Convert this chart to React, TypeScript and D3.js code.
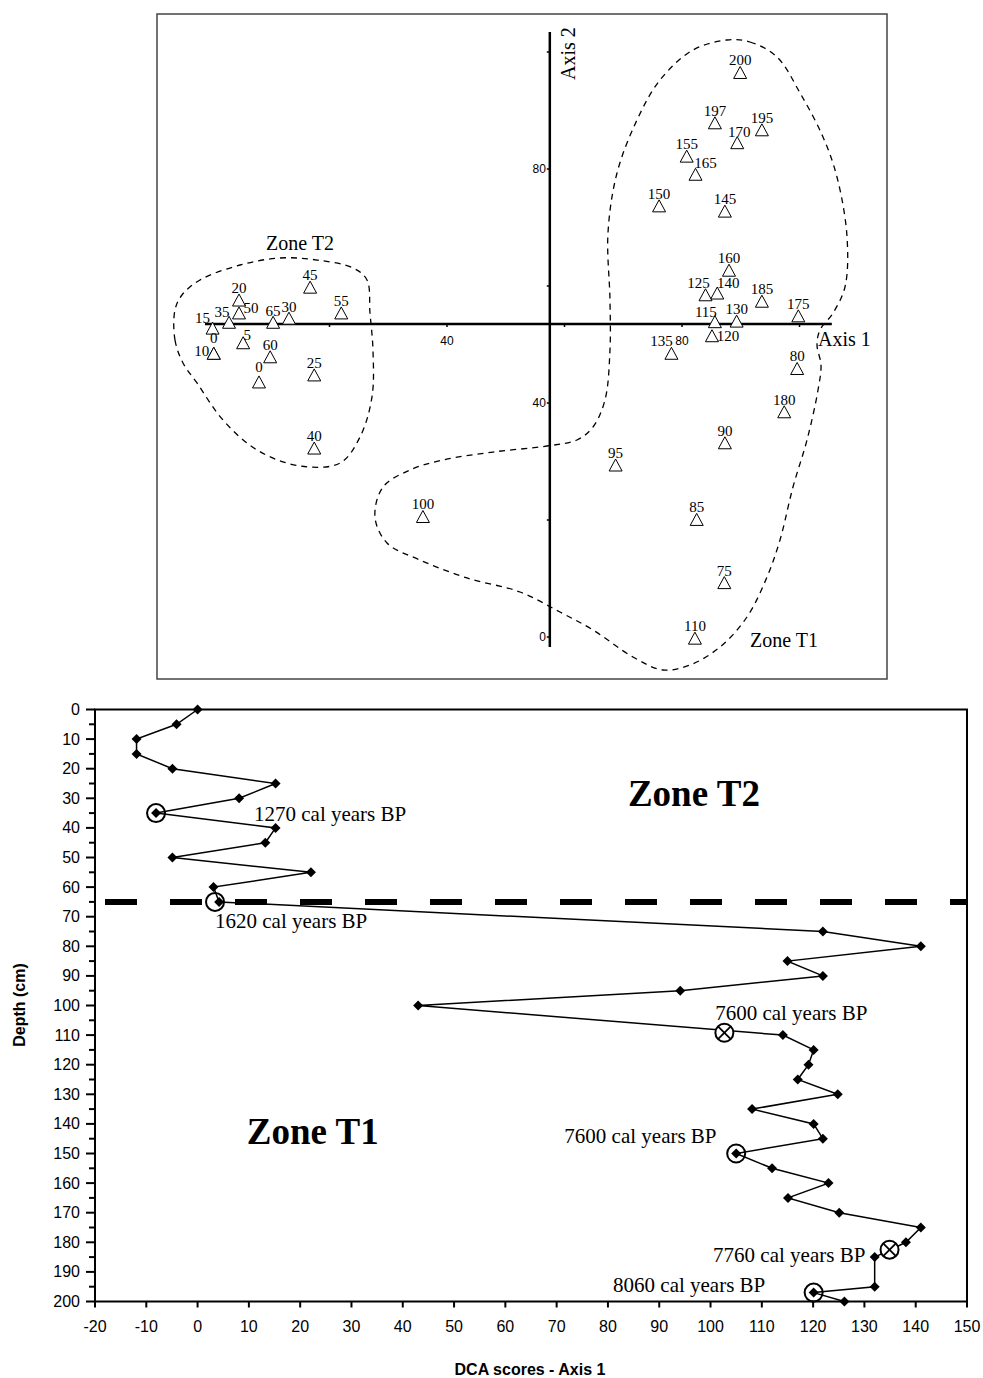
import React from "react";
import * as d3 from "d3";

// ---------------- DCA ordination (top panel) ----------------
const sampleLabels = [
  "15", "35", "20", "50", "65", "30", "45", "55", "5", "0", "10", "60", "0", "25", "40",
  "200", "197", "195", "170", "155", "165", "150", "145", "160", "125", "140", "185", "175",
  "115", "130", "120", "135", "80", "180", "90", "95", "85", "75", "110", "100",
];
const axis1Scores = [
  0.1, 2.9, 4.6, 4.6, 10.4, 13.1, 16.7, 22.0, 5.3, 0.3, 0.3, 9.9, 8.0, 17.4, 17.4,
  89.9, 85.6, 93.6, 89.4, 80.8, 82.3, 76.1, 87.3, 88.0, 84.0, 86.0, 93.6, 99.8,
  85.6, 89.3, 85.1, 78.2, 99.6, 97.4, 87.3, 68.7, 82.5, 87.2, 82.2, 35.9,
];
const axis2Scores = [
  52.8, 53.8, 57.6, 55.4, 53.8, 54.5, 59.8, 55.4, 50.3, 48.5, 48.5, 47.9, 43.6, 44.8, 32.3,
  96.5, 87.9, 86.7, 84.5, 82.2, 79.1, 73.7, 72.8, 62.7, 58.5, 58.8, 57.4, 54.9,
  53.9, 54.0, 51.5, 48.5, 45.9, 38.5, 33.2, 29.4, 20.1, 9.3, -0.2, 20.6,
];

const zoneT1Outline: [number, number][] = [
  [87.66, 102.05], [91.57, 101.71], [96.17, 99.15], [100.09, 93.0], [104.0, 85.47],
  [106.38, 78.63], [108.09, 68.38], [107.74, 59.83], [105.7, 55.38], [103.49, 52.48],
  [102.98, 49.91], [103.66, 46.5], [103.15, 42.22], [101.28, 33.68], [98.89, 25.64],
  [96.68, 16.58], [94.47, 10.26], [91.06, 3.42], [86.47, -1.71], [81.36, -4.79],
  [76.77, -5.64], [71.66, -3.42], [64.85, 1.2], [59.23, 4.27], [52.43, 7.69],
  [43.4, 10.09], [35.4, 13.16], [29.79, 16.07], [27.74, 20.51], [29.11, 25.64],
  [33.7, 28.55], [39.32, 30.26], [47.83, 31.62], [57.02, 32.65], [62.13, 33.68],
  [64.85, 35.9], [66.89, 40.51], [67.74, 49.06], [67.74, 57.61], [67.4, 69.06],
  [68.94, 79.32], [72.34, 88.38], [76.26, 95.21], [81.87, 100.34],
];
const zoneT2Outline: [number, number][] = [
  [-6.3, 55.9], [-6.3, 50.77], [-4.94, 46.84], [-2.55, 43.42], [1.87, 37.09],
  [7.66, 31.97], [14.98, 29.23], [21.79, 29.74], [25.19, 34.19], [27.23, 41.03],
  [27.4, 49.06], [26.89, 55.38], [26.38, 61.03], [24.0, 63.08], [17.87, 64.44],
  [11.57, 64.79], [4.77, 63.59], [-2.04, 61.03], [-5.11, 58.46],
];

const ordXTicks = [20, 40, 60, 80, 100];
const ordYTicks = [0, 20, 40, 60, 80, 100];
const ordXTickLabels = [40, 80];
const ordYTickLabels = [0, 40, 80];
const ordAxisCross = { axis1: 57.5, axis2: 53.5 };
const ordAxis1Extent = [-1.2, 105.5];
const ordAxis2Extent = [-1.7, 103.4];

// ---------------- Depth profile (bottom panel) ----------------
const depths = [
  0, 5, 10, 15, 20, 25, 30, 35, 40, 45, 50, 55, 60, 65, 75, 80, 85, 90, 95, 100,
  110, 115, 120, 125, 130, 135, 140, 145, 150, 155, 160, 165, 170, 175, 180, 185, 195, 197, 200,
];
const dcaAxis1 = [
  0, -4.1, -11.9, -11.9, -4.9, 15.2, 8.1, -8.1, 15.2, 13.2, -4.9, 22.1, 3.1, 4.2, 121.9, 141, 115,
  121.9, 94.1, 43, 114.1, 120.1, 119.1, 117, 124.8, 108.1, 120.1, 121.9, 105, 112, 123, 115.1,
  125.1, 141, 138.1, 132, 132, 120.1, 126.1,
];
const circledScores = [-8.1, 3.4, 105, 120.1];
const circledDepths = [35, 65, 150, 197];
const crossedScores = [102.7, 134.9];
const crossedDepths = [109.2, 182.5];
const dateLabels = [
  "1270 cal years BP", "1620 cal years BP", "7600 cal years BP",
  "7600 cal years BP", "7760 cal years BP", "8060 cal years BP",
];
const dateLabelScores = [11.0, 3.4, 100.9, 71.5, 100.5, 81.0];
const dateLabelDepths = [37.7, 73.8, 104.9, 146.4, 186.6, 196.7];
const zoneBoundaryDepth = 65;
const depthXTicks = d3.range(-20, 151, 10);
const depthYTicks = d3.range(0, 201, 10);
const depthYMinorTicks = d3.range(5, 200, 10);

// label nudges (px) for the ordination point labels
const labelNudge: Record<string, [number, number]> = {
  "15": [-10, -5], "35": [-7, -5], "50": [12, 0], "5": [4, -3], "0": [0, -10],
  "10": [-12, 3], "65": [0, -6], "30": [0, -6], "165": [10, -6], "125": [-7, -7],
  "140": [11, -5], "115": [-9, -5], "120": [16, 5], "135": [-10, -7], "170": [2, -6],
};

const SERIF = "'Liberation Serif', 'Times New Roman', serif";
const SANS = "'Liberation Sans', Arial, sans-serif";

const triangleType = {
  draw(ctx: any, _size: number) {
    ctx.moveTo(0, -6);
    ctx.lineTo(6.5, 6);
    ctx.lineTo(-6.5, 6);
    ctx.closePath();
  },
};

export default function App() {
  // top scales
  const xO = d3.scaleLinear().domain([0, 100]).range([212, 799.5]);
  const yO = d3.scaleLinear().domain([0, 100]).range([637, 52]);
  const outline = d3
    .line<[number, number]>()
    .x((d) => xO(d[0]))
    .y((d) => yO(d[1]))
    .curve(d3.curveCatmullRomClosed.alpha(0.5));
  const triPath = d3.symbol(triangleType as any, 80)() || "";

  // bottom scales
  const xD = d3.scaleLinear().domain([-20, 150]).range([95, 967]);
  const yD = d3.scaleLinear().domain([0, 200]).range([709.5, 1301.5]);
  const series = d3
    .line<number>()
    .x((_, i) => xD(dcaAxis1[i]))
    .y((d) => yD(d));
  const diamond = d3.symbol(d3.symbolSquare, 50)() || "";

  const [dx0, dx1] = xD.range();
  const [dy0, dy1] = yD.range();

  return (
    <svg
      width={983}
      height={1378}
      style={{ position: "absolute", left: 0, top: 0, background: "#fff" }}
    >
      <rect x={0} y={0} width={983} height={1378} fill="#fff" />
      {/* ---------- top panel ---------- */}
      <rect x={157} y={14} width={730} height={665} fill="none" stroke="#444" strokeWidth={1.5} />
      <path d={outline(zoneT1Outline) || ""} fill="none" stroke="#000" strokeWidth={1.3} strokeDasharray="6 5" />
      <path d={outline(zoneT2Outline) || ""} fill="none" stroke="#000" strokeWidth={1.3} strokeDasharray="6 5" />
      {/* axes */}
      <line
        x1={xO(ordAxis1Extent[0])}
        x2={xO(ordAxis1Extent[1])}
        y1={yO(ordAxisCross.axis2)}
        y2={yO(ordAxisCross.axis2)}
        stroke="#000"
        strokeWidth={2.5}
      />
      <line
        x1={xO(ordAxisCross.axis1)}
        x2={xO(ordAxisCross.axis1)}
        y1={yO(ordAxis2Extent[0])}
        y2={yO(ordAxis2Extent[1])}
        stroke="#000"
        strokeWidth={2.5}
      />
      {ordXTicks.map((t) => (
        <line key={"xt" + t} x1={xO(t)} x2={xO(t)} y1={yO(ordAxisCross.axis2)} y2={yO(ordAxisCross.axis2) + 3} stroke="#000" strokeWidth={1.5} />
      ))}
      {ordYTicks.map((t) => (
        <line key={"yt" + t} x1={xO(ordAxisCross.axis1) - 3} x2={xO(ordAxisCross.axis1)} y1={yO(t)} y2={yO(t)} stroke="#000" strokeWidth={1.5} />
      ))}
      {ordXTickLabels.map((t) => (
        <text key={"xl" + t} x={xO(t)} y={yO(ordAxisCross.axis2) + 21} textAnchor="middle" fontFamily={SANS} fontSize={12}>
          {t}
        </text>
      ))}
      {ordYTickLabels.map((t) => (
        <text key={"yl" + t} x={xO(ordAxisCross.axis1) - 4} y={yO(t) + 4} textAnchor="end" fontFamily={SANS} fontSize={12}>
          {t}
        </text>
      ))}
      <text x={818} y={346} fontFamily={SERIF} fontSize={20}>Axis 1</text>
      <text transform="translate(575,80) rotate(-90)" fontFamily={SERIF} fontSize={20}>Axis 2</text>
      <text x={300} y={250} textAnchor="middle" fontFamily={SERIF} fontSize={20}>Zone T2</text>
      <text x={750} y={647} fontFamily={SERIF} fontSize={20}>Zone T1</text>
      {/* samples */}
      {sampleLabels.map((lab, i) => {
        const x = xO(axis1Scores[i]);
        const y = yO(axis2Scores[i]);
        const [ndx, ndy] = labelNudge[lab] || [0, -7];
        return (
          <g key={"s" + i}>
            <path d={triPath} transform={`translate(${x},${y})`} fill="#fff" stroke="#000" strokeWidth={1} />
            <text x={x + ndx} y={y + ndy} textAnchor="middle" fontFamily={SERIF} fontSize={15}>
              {lab}
            </text>
          </g>
        );
      })}

      {/* ---------- bottom panel ---------- */}
      <rect x={dx0} y={dy0} width={dx1 - dx0} height={dy1 - dy0} fill="none" stroke="#000" strokeWidth={2} />
      {depthXTicks.map((t) => (
        <g key={"dx" + t}>
          <line x1={xD(t)} x2={xD(t)} y1={dy1} y2={dy1 + 6} stroke="#000" strokeWidth={2} />
          <text x={xD(t)} y={1332} textAnchor="middle" fontFamily={SANS} fontSize={16}>
            {t}
          </text>
        </g>
      ))}
      {depthYTicks.map((t) => (
        <g key={"dy" + t}>
          <line x1={dx0 - 9} x2={dx0} y1={yD(t)} y2={yD(t)} stroke="#000" strokeWidth={2} />
          <text x={80} y={yD(t) + 5.5} textAnchor="end" fontFamily={SANS} fontSize={16}>
            {t}
          </text>
        </g>
      ))}
      {depthYMinorTicks.map((t) => (
        <line key={"dm" + t} x1={dx0 - 6} x2={dx0} y1={yD(t)} y2={yD(t)} stroke="#000" strokeWidth={2} />
      ))}
      <text x={530} y={1375} textAnchor="middle" fontFamily={SANS} fontWeight="bold" fontSize={16}>
        DCA scores - Axis 1
      </text>
      <text transform="translate(25,1005) rotate(-90)" textAnchor="middle" fontFamily={SANS} fontWeight="bold" fontSize={16}>
        Depth (cm)
      </text>
      {/* zone boundary */}
      <line
        x1={dx0 + 10}
        x2={dx1}
        y1={yD(zoneBoundaryDepth)}
        y2={yD(zoneBoundaryDepth)}
        stroke="#000"
        strokeWidth={6}
        strokeDasharray="32 33"
      />
      <text x={xD(83.9)} y={yD(32.6)} fontFamily={SERIF} fontWeight="bold" fontSize={37}>Zone T2</text>
      <text x={xD(9.6)} y={yD(146.7)} fontFamily={SERIF} fontWeight="bold" fontSize={37}>Zone T1</text>
      {/* series */}
      <path d={series(depths) || ""} fill="none" stroke="#000" strokeWidth={1.5} />
      {depths.map((d, i) => (
        <path key={"p" + i} d={diamond} transform={`translate(${xD(dcaAxis1[i])},${yD(d)}) rotate(45)`} fill="#000" />
      ))}
      {circledScores.map((s, i) => (
        <circle key={"c" + i} cx={xD(s)} cy={yD(circledDepths[i])} r={9} fill="none" stroke="#000" strokeWidth={2} />
      ))}
      {crossedScores.map((s, i) => {
        const cx = xD(s);
        const cy = yD(crossedDepths[i]);
        const k = 9 * Math.SQRT1_2;
        return (
          <g key={"x" + i}>
            <circle cx={cx} cy={cy} r={9} fill="#fff" stroke="#000" strokeWidth={2} />
            <line x1={cx - k} y1={cy - k} x2={cx + k} y2={cy + k} stroke="#000" strokeWidth={1.8} />
            <line x1={cx - k} y1={cy + k} x2={cx + k} y2={cy - k} stroke="#000" strokeWidth={1.8} />
          </g>
        );
      })}
      {dateLabels.map((t, i) => (
        <text key={"dl" + i} x={xD(dateLabelScores[i])} y={yD(dateLabelDepths[i])} fontFamily={SERIF} fontSize={21}>
          {t}
        </text>
      ))}
    </svg>
  );
}
